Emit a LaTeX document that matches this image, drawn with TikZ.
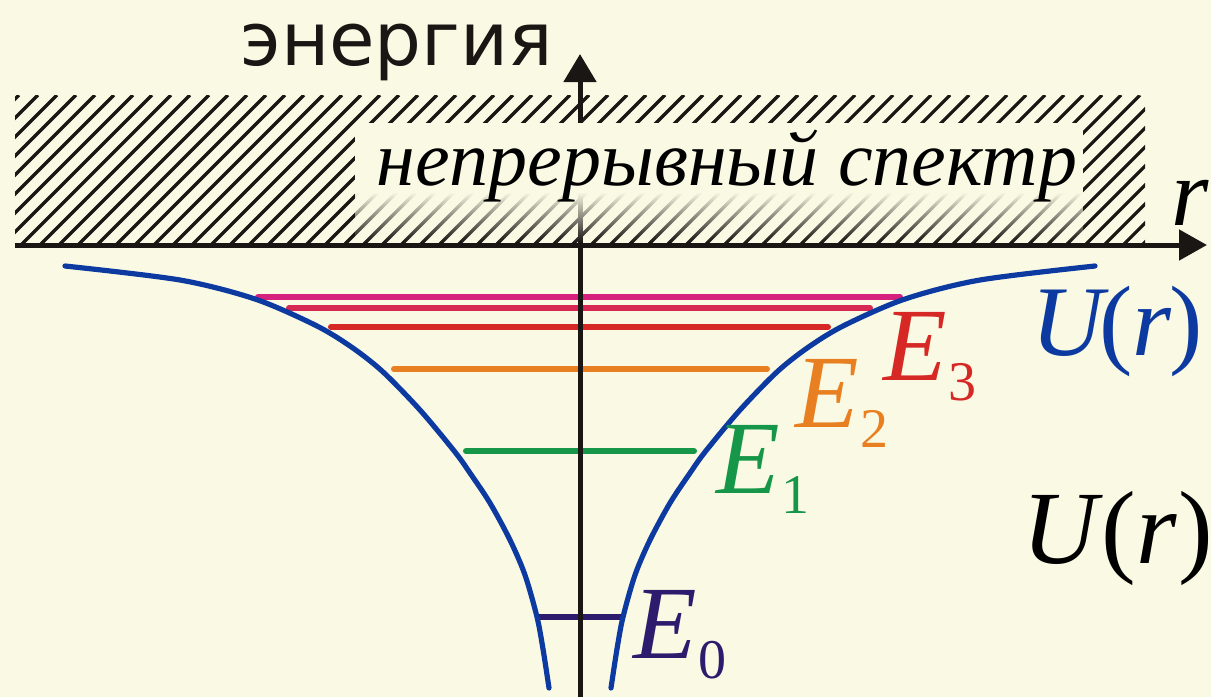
\documentclass[tikz,border=0pt]{standalone}
\usepackage{fontspec}
\setmainfont{Liberation Serif}
\newfontfamily\tnr{Liberation Serif}
\newfontfamily\sansru{DejaVu Sans}
\usetikzlibrary{arrows.meta,fadings}
\definecolor{bgc}{RGB}{250,250,228}
\definecolor{ublue}{RGB}{12,58,160}
\definecolor{lpink}{RGB}{214,32,126}
\definecolor{lrose}{RGB}{214,40,82}
\definecolor{lred}{RGB}{214,40,36}
\definecolor{lorange}{RGB}{232,128,34}
\definecolor{lgreen}{RGB}{22,150,72}
\definecolor{lindigo}{RGB}{45,28,110}
\definecolor{ink}{RGB}{25,22,20}
\tikzfading[name=fadedown, top color=transparent!0, bottom color=transparent!100]
\newcommand{\lev}[2]{{\tnr\fontsize{52}{52}\selectfont\itshape #1}\kern1pt\raisebox{-10pt}{\tnr\fontsize{28}{28}\selectfont #2}}
\tikzset{
  axisline/.style={draw=ink, line width=2.5pt},
  hatchline/.style={draw=ink, line width=1.6pt},
  levelline/.style={line width=3pt, line cap=round},
  potential/.style={draw=ublue, line width=2.6pt, line cap=round},
  lbl/.style={inner sep=0pt, anchor=base west},
}
\begin{document}
\begin{tikzpicture}[x=0.5pt,y=-0.5pt]
\fill[bgc] (0,0) rectangle (1211,697);
\useasboundingbox (0,0) rectangle (1211,697);
% hatched continuum
\begin{scope}
\clip (15,245) -- (15,95) -- (1131,95) .. controls (1145,95) .. (1145,109) -- (1145,245) -- cycle;
\foreach \i in {0,...,70} {\draw[hatchline] (\i*19-150,245) -- (\i*19,95);}
\end{scope}
% coordinates
\coordinate (yb) at (580,697);
\coordinate (yt) at (580,54);
\coordinate (yo) at (580,245);
\coordinate (xl) at (15,245);
\coordinate (xr) at (1207,245);
% vertical axis
\draw[axisline, -{Triangle[length=14pt,width=16pt]}] (yb) -- (yt);
% clear box for the label
\fill[bgc] (355,123) rectangle (1083,193);
\fill[bgc, path fading=fadedown] (355,192) rectangle (1083,242);
\node[lbl] (spec) at (376,185) {\tnr\fontsize{39}{39}\selectfont\itshape непрерывный спектр};
% horizontal axis
\draw[axisline, -{Triangle[length=14pt,width=15pt]}] (xl) -- (xr);
% energy levels
\draw[levelline, lpink] (258,297) coordinate (p1) -- (900,297) coordinate (p2);
\draw[levelline, lrose] (289,308) coordinate (q1) -- (870,308) coordinate (q2);
\draw[levelline, lred] (331,327) coordinate (e31) -- (828,327) coordinate (e32);
\draw[levelline, lorange] (394,369) coordinate (e21) -- (767,369) coordinate (e22);
\draw[levelline, lgreen] (466,451) coordinate (e11) -- (694,451) coordinate (e12);
\draw[levelline, lindigo] (538,617) coordinate (e01) -- (622,617) coordinate (e02);
\draw[axisline] (yb) -- (yo);
% potential well
\draw[potential] plot[smooth, tension=0.5] coordinates {(611,688) (617,649) (623,617) (635,575) (650,540) (670,503) (690,473) (705,452) (740,410) (778,371) (810,346) (845,325) (905,299) (980,280) (1095,266)};
\draw[potential] plot[smooth, tension=0.5] coordinates {(549,688) (543,649) (537,617) (525,575) (510,540) (490,503) (470,473) (455,452) (420,410) (382,371) (350,346) (315,325) (255,299) (180,280) (65,266)};
% labels
\node[lbl, lred] (E3) at (883,380) {\lev{E}{3}};
\node[lbl, lorange] (E2) at (795,427) {\lev{E}{2}};
\node[lbl, lgreen] (E1) at (716,493) {\lev{E}{1}};
\node[lbl, lindigo] (E0) at (633,658) {\lev{E}{0}};
\node[lbl, ublue] (Ub) at (1031,355) {\tnr\fontsize{50}{50}\selectfont\itshape U\kern-2pt\upshape(\itshape r\kern-1pt\upshape)};
\node[lbl, black] (Uk) at (1022,563) {\tnr\fontsize{52}{52}\selectfont\itshape U\kern2pt\upshape(\itshape r\kern1pt\upshape)};
\node[lbl, black] (rl) at (1171,225) {\tnr\fontsize{48}{48}\selectfont\itshape r};
\node[lbl, ink] (en) at (240,65) {\sansru\fontsize{37}{37}\selectfont энергия};
\end{tikzpicture}
\end{document}
